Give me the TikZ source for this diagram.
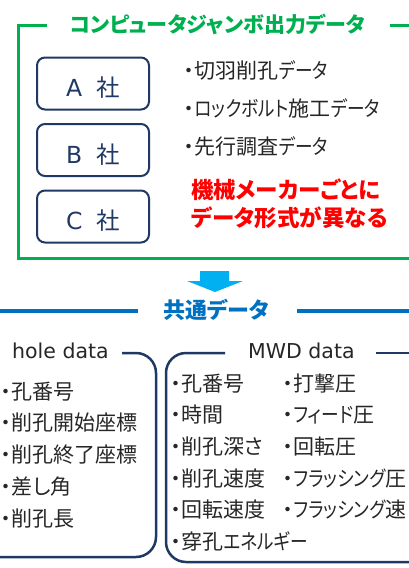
\documentclass[tikz,border=0pt]{standalone}
\usepackage{fontspec}
\setmainfont{Noto Sans CJK JP}[RawFeature={+palt}]
\newfontfamily\knfont{Noto Sans CJK JP}[RawFeature={+palt}, FakeStretch=0.84]
\newcommand{\kn}[1]{{\knfont #1}}
\newfontfamily\lat{DejaVu Sans}
\definecolor{jgreen}{HTML}{00B050}
\definecolor{navy}{HTML}{1F3864}
\definecolor{txt}{HTML}{262626}
\definecolor{jred}{HTML}{FF0000}
\definecolor{arrowc}{HTML}{00B0F0}
\definecolor{kblue}{HTML}{0070C0}
\tikzset{
  frameG/.style={draw=jgreen, line width=3pt, line join=miter},
  cobox/.style={draw=navy, line width=2pt, rounded corners=8pt, minimum width=112pt,
    minimum height=52pt, text=navy, inner sep=0pt, text height=26.8pt, text depth=0pt,
    font=\fontsize{23.5}{26}\selectfont},
  item/.style={anchor=west, inner sep=0pt, text=txt, text height=16.8pt, text depth=1.7pt,
    font=\fontsize{21}{24}\selectfont},
  redtxt/.style={anchor=west, inner sep=0pt, text=jred, text height=18pt, text depth=1.8pt,
    font=\fontsize{22.5}{26}\selectfont\bfseries},
  headG/.style={inner sep=0pt, text=jgreen, text height=16.8pt, text depth=1.7pt,
    font=\fontsize{21}{24}\selectfont\bfseries},
  headB/.style={inner sep=0pt, text=kblue, text height=17.6pt, text depth=1.8pt,
    font=\fontsize{22}{24}\selectfont\bfseries},
  blueline/.style={draw=kblue, line width=4pt},
  navybox/.style={draw=navy, line width=2.5pt, rounded corners=20pt},
  lathead/.style={anchor=base west, inner sep=0pt, text=txt, font=\lat\fontsize{20.5}{24}\selectfont},
}
\begin{document}
\begin{tikzpicture}[x=1pt,y=-1pt]
\useasboundingbox (0,0) rectangle (409,568);
\clip (0,0) rectangle (409,568);

% green frame
\node[headG] (title) at (217.5,25) {コンピュータジャンボ出力データ};
\draw[frameG] (47,25) -- (18,25) -- (18,258) -- (415,258);
\draw[frameG] (390,25) -- (415,25);

% company boxes
\node[cobox] (A) at (93,83.5) {{\lat A\hspace{14pt}}社};
\node[cobox] (B) at (93,150) {{\lat B\hspace{14pt}}社};
\node[cobox] (C) at (93,216.5) {{\lat C\hspace{14pt}}社};

% data list
\node[item] (d1) at (184,71) {・切羽削孔\kn{データ}};
\node[item] (d2) at (184,109) {・\kn{ロックボルト}施工\kn{データ}};
\node[item] (d3) at (184,147) {・先行調査\kn{データ}};

\node[redtxt] (r1) at (191,190) {機械メーカーごとに};
\node[redtxt] (r2) at (191,218) {データ形式が異なる};

% arrow
\fill[arrowc] (200,271) -- (229,271) -- (229,281) -- (243,281) -- (215,292)
  -- (187,281) -- (200,281) -- cycle;

% common data
\node[headB] (common) at (216.5,311) {共通データ};
\draw[blueline] (-5,311) -- (138,311);
\draw[blueline] (297,311) -- (415,311);

% hole data box
\node[lathead] (hole) at (12,358) {hole data};
\draw[navybox] (122,353) -- (156,353) -- (156,557) -- (-20,557);
\node[item] (h1) at (1,392) {・孔番号};
\node[item] (h2) at (1,423) {・削孔開始座標};
\node[item] (h3) at (1,455) {・削孔終了座標};
\node[item] (h4) at (1,487) {・差し角};
\node[item] (h5) at (1,519) {・削孔長};

% MWD data box
\node[lathead] (mwd) at (248,358) {MWD data};
\draw[navybox] (225,353) -- (166,353) -- (166,562) -- (430,562);
\draw[navybox] (376,353) -- (430,353);
\node[item] (m1) at (171,384) {・孔番号};
\node[item] (m2) at (171,415) {・時間};
\node[item] (m3) at (171,447) {・削孔深さ};
\node[item] (m4) at (171,479) {・削孔速度};
\node[item] (m5) at (171,510) {・回転速度};
\node[item] (m6) at (171,542) {・穿孔\kn{エネルギー}};
\node[item] (n1) at (283,384) {・打撃圧};
\node[item] (n2) at (283,415) {・\kn{フィード}圧};
\node[item] (n3) at (283,447) {・回転圧};
\node[item] (n4) at (283,479) {・\kn{フラッシング}圧};
\node[item] (n5) at (283,510) {・\kn{フラッシング}速};
\end{tikzpicture}
\end{document}
